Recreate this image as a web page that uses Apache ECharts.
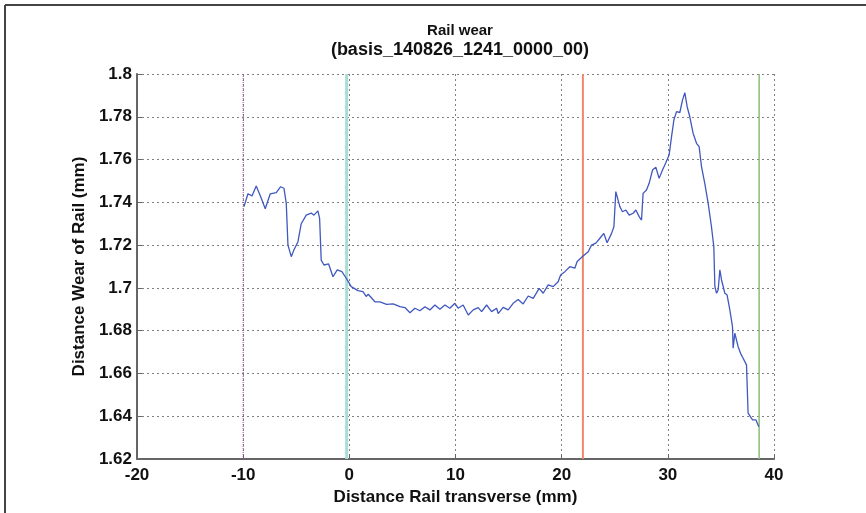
<!DOCTYPE html>
<html>
<head>
<meta charset="utf-8">
<script src="https://cdn.jsdelivr.net/npm/echarts@6/dist/echarts.min.js"></script>
<style>
html,body{margin:0;padding:0;background:#fff;}
#chart{width:866px;height:513px;}
</style>
</head>
<body>
<div id="chart"></div>
<script>
// Data
var titleText = 'Rail wear';
var subtitleText = '(basis_140826_1241_0000_00)';
var xAxisName = 'Distance Rail transverse (mm)';
var yAxisName = 'Distance Wear of Rail (mm)';
var xTicks = [-20, -10, 0, 10, 20, 30, 40];
var yTicks = [1.62, 1.64, 1.66, 1.68, 1.7, 1.72, 1.74, 1.76, 1.78, 1.8];

var xs = [
 -9.92,-9.55,-9.17,-8.77,-8.35,-7.92,-7.45,-6.88,-6.47,-6.16,-5.94,-5.78,-5.47,-5.22,-4.84,-4.53,-4.06,-3.59,-3.33,-2.96,-2.80,-2.65,-2.39,-1.95,-1.54,-1.14,-0.70,-0.29,0.18,0.81,1.28,1.59,
 1.78,2.41,2.88,3.51,4.13,4.76,5.24,5.71,6.18,6.65,7.12,7.59,8.06,8.53,9.00,9.47,9.94,10.25,10.72,11.20,11.67,12.14,12.46,12.93,13.40,13.87,
 14.02,14.49,14.96,15.43,15.90,16.37,16.85,17.32,17.88,18.26,18.73,19.20,19.67,19.90,20.30,20.77,21.24,21.46,22.02,22.50,22.81,23.22,23.60,23.97,24.28,24.70,24.92,
 25.10,25.23,25.48,25.73,26.05,26.36,26.73,26.99,27.30,27.52,27.67,27.99,28.24,28.56,28.87,29.18,29.50,29.81,30.12,30.35,30.57,30.82,31.13,31.38,31.60,31.82,32.07,
 32.38,32.70,32.95,33.17,33.48,33.80,34.11,34.33,34.43,34.59,34.74,34.90,35.06,35.37,35.58,35.84,36.09,36.15,36.31,36.62,36.85,37.09,37.41,37.56,37.72,37.98,38.29,38.57
];
var wear = [
 1.738,1.744,1.743,1.7476,1.7426,1.737,1.744,1.7445,1.7473,1.7466,1.7395,1.720,1.7146,1.7177,1.7216,1.730,1.734,1.735,1.734,1.736,1.7325,1.713,1.7107,1.7112,1.7052,1.7084,1.7076,1.7045,1.7006,1.6987,1.6982,1.696,
 1.697,1.6935,1.6935,1.6923,1.6925,1.6912,1.6908,1.6884,1.6905,1.6893,1.6912,1.6897,1.692,1.690,1.692,1.6905,1.6928,1.6905,1.692,1.6873,1.6897,1.6908,1.6889,1.692,1.6889,1.6905,
 1.688,1.6909,1.6897,1.6928,1.6946,1.6925,1.6962,1.6951,1.6998,1.6975,1.7014,1.7006,1.7029,1.706,1.7076,1.7099,1.7092,1.7123,1.7149,1.7169,1.720,1.7209,1.7232,1.7255,1.7211,1.7255,1.7286,
 1.745,1.7458,1.738,1.7356,1.7364,1.734,1.7349,1.7364,1.7333,1.7317,1.7442,1.7458,1.7489,1.7551,1.7564,1.7512,1.7551,1.7585,1.7621,1.7707,1.7785,1.7824,1.782,1.7878,1.7913,1.7847,1.780,
 1.7723,1.7676,1.766,1.7567,1.7489,1.7395,1.7286,1.7193,1.7006,1.6975,1.699,1.7084,1.7037,1.6975,1.6967,1.6897,1.6819,1.6718,1.6788,1.6725,1.6694,1.6671,1.664,1.6414,1.6406,1.6383,1.6383,1.6351
];

// vertical marker lines
var vlineX = [-10, -0.25, 22.0, 38.6];
var vlineColors = ['#9a4a9a', '#a8dcd6', '#f0876a', '#8cbc78'];
var vlineWidths = [1, 3, 2, 1.5];
var vlineTypes = ['dotted', 'solid', 'solid', 'solid'];

var chart = echarts.init(document.getElementById('chart'), null, {renderer: 'canvas'});
var FONT = 'Liberation Sans, Arial, sans-serif';

var curve = xs.map(function (x, i) { return [x, wear[i]]; });

var series = [];
vlineX.forEach(function (x, i) {
  series.push({
    type: 'line',
    data: [[x, yTicks[0]], [x, yTicks[yTicks.length - 1]]],
    symbol: 'none',
    silent: true,
    lineStyle: {color: vlineColors[i], width: vlineWidths[i], type: vlineTypes[i]},
    z: 3
  });
});
series.push({
  type: 'line',
  data: curve,
  symbol: 'none',
  lineStyle: {color: '#4058c0', width: 1.3},
  z: 5
});

chart.setOption({
  animation: false,
  backgroundColor: '#fff',
  title: {
    text: '{a|' + titleText + '}\n{b|' + subtitleText + '}',
    left: 455, top: 16, textAlign: 'center',
    textStyle: {
      rich: {
        a: {fontFamily: FONT, fontSize: 15, fontWeight: 'bold', color: '#111', lineHeight: 19, align: 'center'},
        b: {fontFamily: FONT, fontSize: 18, fontWeight: 'bold', color: '#111', lineHeight: 20, align: 'center'}
      }
    }
  },
  grid: {left: 137, right: 92, top: 74, bottom: 54},
  xAxis: {
    type: 'value', min: -20, max: 40, interval: 10,
    name: xAxisName, nameLocation: 'middle', nameGap: 26,
    nameTextStyle: {fontFamily: FONT, fontSize: 17, fontWeight: 'bold', color: '#111'},
    axisLine: {show: true, onZero: false, lineStyle: {color: '#666', width: 2}},
    axisTick: {show: true, inside: true, length: 5, lineStyle: {color: '#666'}},
    axisLabel: {fontFamily: FONT, fontSize: 17, fontWeight: 'bold', color: '#111', margin: 8,
      formatter: function (v) { return String(v); }},
    splitLine: {show: true, lineStyle: {color: '#808080', type: [2, 3], width: 1}}
  },
  yAxis: {
    type: 'value', min: 1.62, max: 1.8, interval: 0.02,
    name: yAxisName, nameLocation: 'middle', nameGap: 46, nameRotate: 90,
    nameTextStyle: {fontFamily: FONT, fontSize: 17, fontWeight: 'bold', color: '#111'},
    axisLine: {show: true, onZero: false, lineStyle: {color: '#666', width: 2}},
    axisTick: {show: true, inside: true, length: 5, lineStyle: {color: '#666'}},
    axisLabel: {fontFamily: FONT, fontSize: 17, fontWeight: 'bold', color: '#111', margin: 5,
      formatter: function (v) { return String(+v.toFixed(2)); }},
    splitLine: {show: true, lineStyle: {color: '#808080', type: [2, 3], width: 1}}
  },
  graphic: [
    {type: 'line', shape: {x1: 5, y1: 5, x2: 866, y2: 5}, style: {stroke: '#444', lineWidth: 2}, silent: true},
    {type: 'line', shape: {x1: 5, y1: 5, x2: 5, y2: 513}, style: {stroke: '#444', lineWidth: 2}, silent: true}
  ],
  series: series
});
</script>
</body>
</html>
